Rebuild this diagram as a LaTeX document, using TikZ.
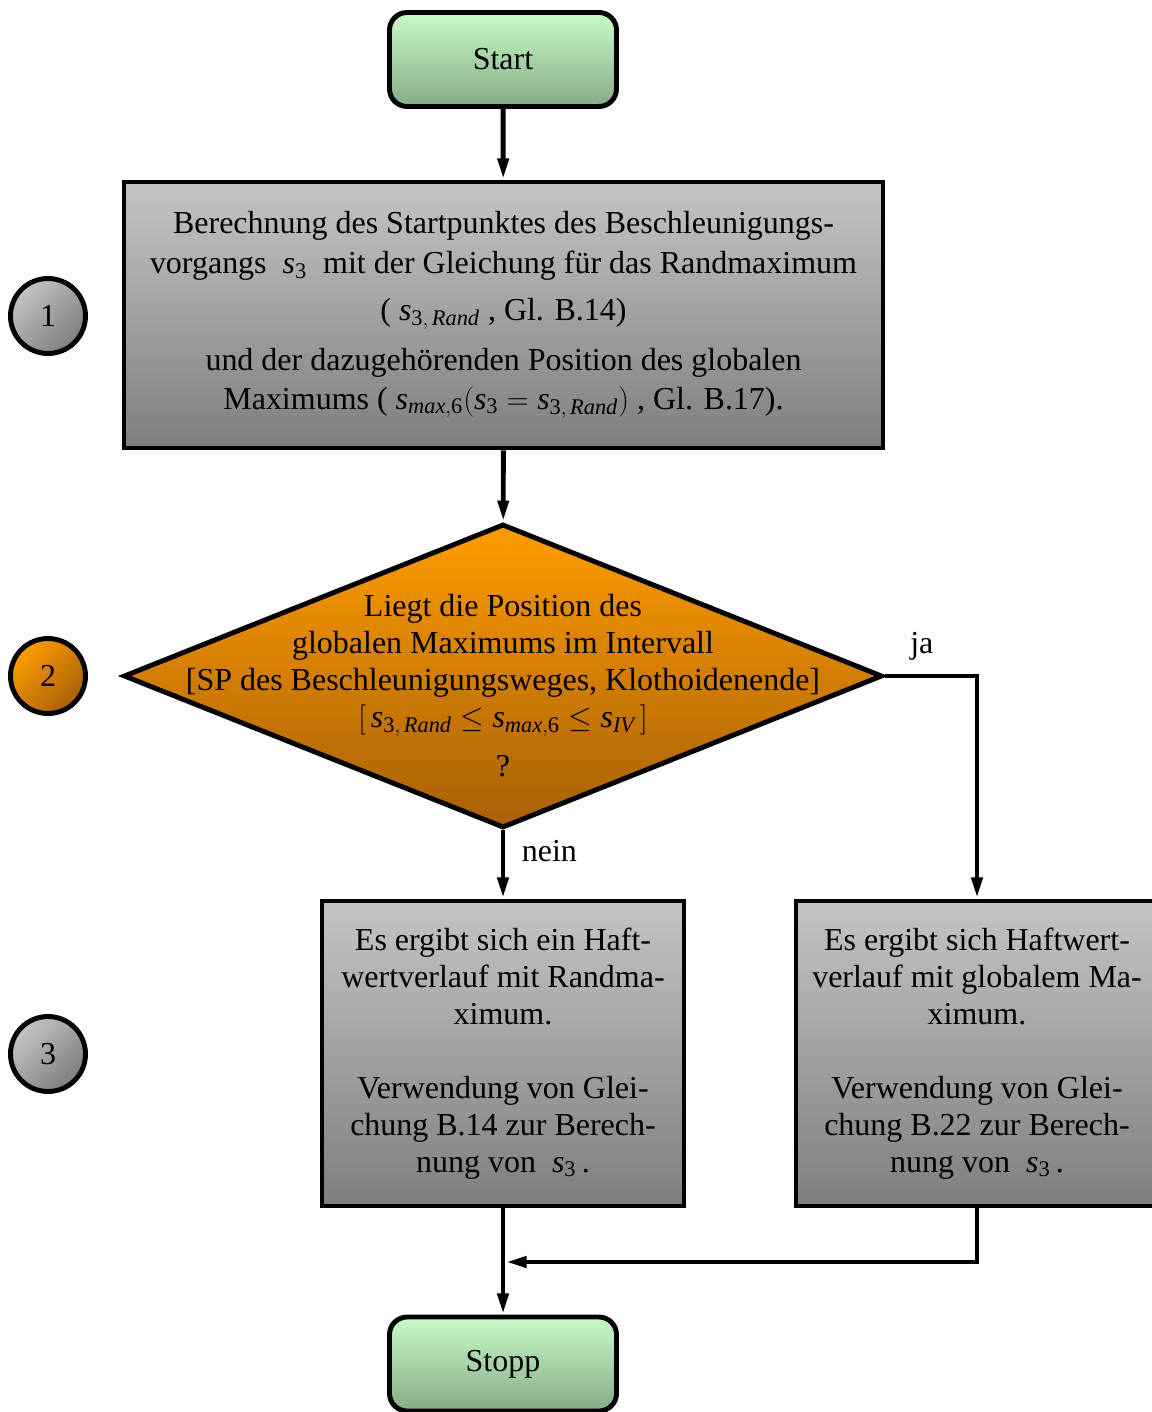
\documentclass[tikz,border=0pt]{standalone}
\usepackage{amsmath}
\usepackage{fontspec}
\setmainfont{Liberation Serif}
\usetikzlibrary{arrows.meta,positioning,calc,shapes.geometric}

% colours of the shaded boxes
\definecolor{greentop}{RGB}{200,250,200}
\definecolor{greenbot}{RGB}{134,172,134}
\definecolor{greytop}{RGB}{196,196,196}
\definecolor{greybot}{RGB}{126,126,126}
\definecolor{orangetop}{RGB}{255,156,0}
\definecolor{orangebot}{RGB}{166,96,8}

% italic variables as in the text font
\newcommand{\sv}[1]{\textit{s}_{\text{#1}}}
\newcommand{\srand}{\textit{s}_{\text{3},\,\textit{Rand}}}
\newcommand{\smax}{\textit{s}_{\textit{max},\text{6}}}

\begin{document}
\begin{tikzpicture}[
    font=\fontsize{18.2}{21}\selectfont,
    every path/.style={line width=2.8pt},
    arr/.style={-{Triangle[length=12pt,width=6pt]}, line width=2.8pt},
    terminal/.style={draw, rounded corners=10pt, minimum width=4.54cm, minimum height=1.88cm,
        top color=greentop, bottom color=greenbot},
    greybox/.style={draw, minimum width=#1, top color=greytop, bottom color=greybot, align=center},
    decision/.style={draw, diamond, minimum width=15.18cm, minimum height=6.08cm, inner sep=0pt,
        top color=orangetop, bottom color=orangebot},
    stepnum/.style={draw, circle, minimum size=1.5cm, inner sep=0pt,
        top color=#1top, bottom color=#1bot, shading angle=45},
]
    \useasboundingbox (0,0) rectangle (23.02,-28.24);

    % Start and stop
    \node[terminal] (start) at (10.06,-1.19) {Start};
    \node[terminal] (stopp) at (10.06,-27.28) {Stopp};

    % Step 1: starting point of the acceleration
    \node[greybox=15.18cm, minimum height=5.32cm] (calc) at (10.07,-6.3) {%
        Berechnung des Startpunktes des Beschleunigungs-\\[1.7pt]
        vorgangs \ $\sv{3}$ \ mit der Gleichung für das Randmaximum\\[5.6pt]
        ( $\srand$ , Gl. B.14)\\[7.7pt]
        und der dazugehörenden Position des globalen\\[0.7pt]
        Maximums ( $\smax(\sv{3}=\srand)$ , Gl. B.17).};

    % Step 2: interval check
    \node[decision] (check) at (10.06,-13.52) {};
    \node[align=center] (checktext) at (10.06,-13.72) {%
        Liegt die Position des\\
        globalen Maximums im Intervall\\
        {[}SP des Beschleunigungsweges, Klothoidenende{]}\\
        $[\,\srand \le \smax \le \textit{s}_{\textit{IV}}\,]$\\[7pt]
        ?};

    % Step 3: the two outcomes
    \node[greybox=7.24cm, minimum height=6.1cm] (randmax) at (10.06,-21.07) {%
        Es ergibt sich ein Haft-\\
        wertverlauf mit Randma-\\
        ximum.\\[21pt]
        Verwendung von Glei-\\
        chung B.14 zur Berech-\\
        nung von \ $\sv{3}$\,.};
    \node[greybox=7.24cm, minimum height=6.1cm] (globmax) at (19.54,-21.07) {%
        Es ergibt sich Haftwert-\\
        verlauf mit globalem Ma-\\
        ximum.\\[21pt]
        Verwendung von Glei-\\
        chung B.22 zur Berech-\\
        nung von \ $\sv{3}$\,.};

    % step numbers on the left
    \node[stepnum=grey] (n1) at (0.96,-6.32) {1};
    \node[stepnum=orange] (n2) at (0.96,-13.52) {2};
    \node[stepnum=grey] (n3) at (0.96,-21.08) {3};

    % connectors
    \coordinate (merge) at (10.11,-25.24);
    \draw[arr] (start) -- (calc);
    \draw[arr] (calc) -- (check);
    \draw[arr] (check.south) -- node[pos=0.3, right=6pt] {nein} (randmax);
    \draw[arr] (check.east) -| node[pos=0.2, above=4pt] {ja} (globmax.north);
    \draw[arr] (globmax.south) |- (merge);
    \draw[arr] (randmax) -- (stopp);
\end{tikzpicture}
\end{document}
